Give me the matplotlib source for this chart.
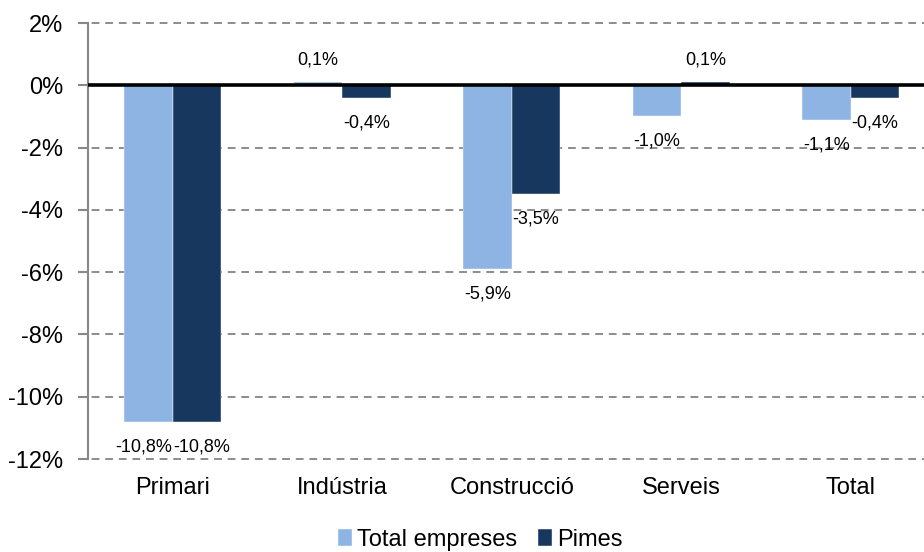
import matplotlib
matplotlib.use("Agg")
import matplotlib.pyplot as plt
import numpy as np

categories = ["Primari", "Indústria", "Construcció", "Serveis", "Total"]
total_empreses = [-10.8, 0.1, -5.9, -1.0, -1.1]
pimes = [-10.8, -0.4, -3.5, 0.1, -0.4]
series_names = ["Total empreses", "Pimes"]
yticks = [2, 0, -2, -4, -6, -8, -10, -12]

plt.rcParams['font.family'] = ['Liberation Sans', 'DejaVu Sans']

fig = plt.figure(figsize=(9.24, 5.52), dpi=100)
W, H = 924, 552
ax = fig.add_axes([88 / W, 1 - 459 / H, 847.5 / W, 436 / H])

x = np.arange(len(categories))
bw = 0.287
c_light = "#8EB4E3"
c_dark = "#17375E"

b1 = ax.bar(x - bw / 2, total_empreses, bw, color=c_light, edgecolor="white", linewidth=0.3,
            label=series_names[0], zorder=3)
b2 = ax.bar(x + bw / 2, pimes, bw, color=c_dark, edgecolor="white", linewidth=0.3,
            label=series_names[1], zorder=3)

ax.set_xlim(-0.5, len(categories) - 0.5)
ax.set_ylim(-12, 2)
ax.set_yticks(yticks)
ax.set_yticklabels([f"{v}%" for v in yticks], fontsize=17)
ax.set_xticks(x)
ax.set_xticklabels(categories, fontsize=17)
ax.tick_params(axis='x', length=0, pad=13)
ax.tick_params(axis='y', length=7.2, width=1.5, color="#888888", pad=10.5, direction='out')

for y in yticks:
    if y != 0:
        ax.axhline(y, color="#8c8c8c", linestyle=(0, (4, 3)), linewidth=1.4, zorder=1, clip_on=False,
                   xmin=-0.012)
ax.axhline(0, color="black", linewidth=2.6, zorder=4)

for s in ["top", "right", "bottom"]:
    ax.spines[s].set_visible(False)
ax.spines["left"].set_color("#888888")
ax.spines["left"].set_linewidth(1.5)

def fmt(v):
    return f"{v:.1f}%".replace(".", ",")

for si, (bars, vals, other) in enumerate(((b1, total_empreses, pimes), (b2, pimes, total_empreses))):
    for rect, v, o in zip(bars, vals, other):
        cx = rect.get_x() + rect.get_width() / 2
        dx = 0
        if v < 0 and o < 0 and abs(v - o) < 0.3:
            dx = -3.5 if si == 0 else 3.5
        dy = 16 if v >= 0 else -18
        ax.annotate(fmt(v), (cx, v), xytext=(dx, dy), textcoords="offset points",
                    ha="center", va="center", fontsize=13, zorder=5)

leg = fig.legend(loc="center", bbox_to_anchor=(480 / W, 1 - 540 / H), ncol=2, frameon=False,
                 fontsize=17, handlelength=0.6, handleheight=0.7, handletextpad=0.2,
                 columnspacing=0.9)

fig.savefig("out.png", dpi=100)
